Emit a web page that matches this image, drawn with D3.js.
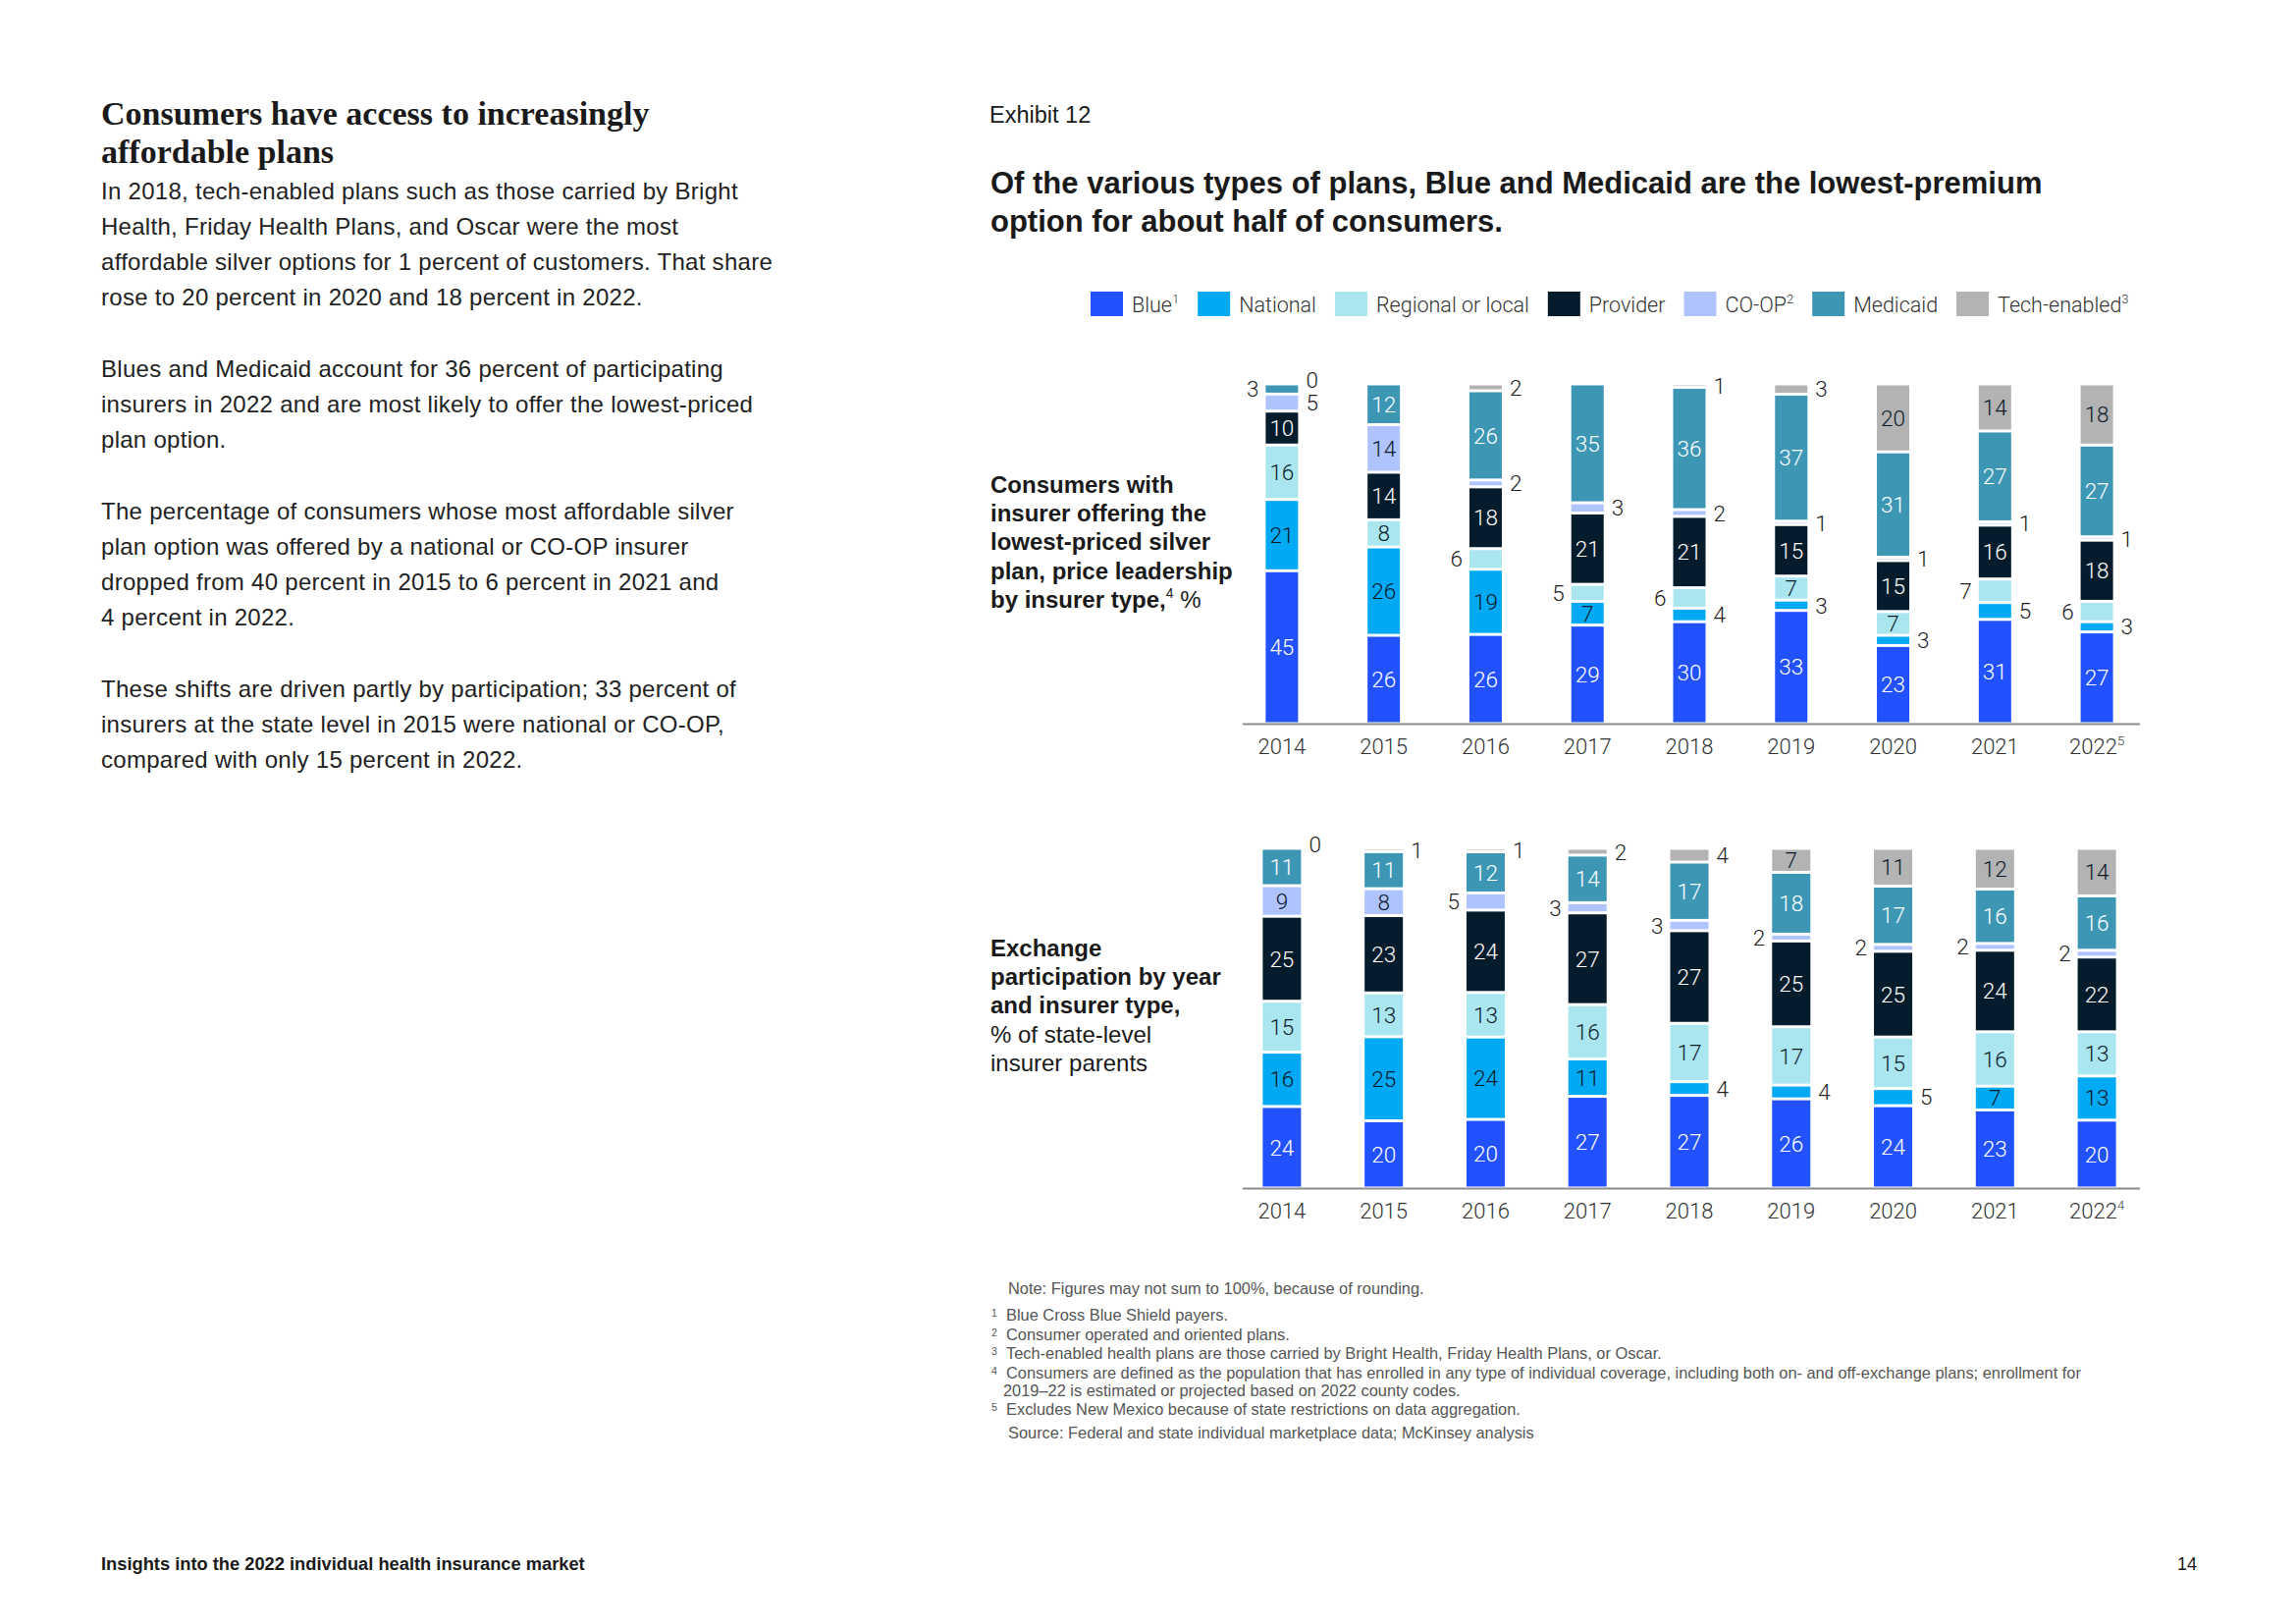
<!DOCTYPE html>
<html lang="en">
<head>
<meta charset="UTF-8">
<title>Exhibit 12</title>
<script src="https://d3js.org/d3.v7.min.js"></script>
<style>
  body { margin: 0; background: #fff; }
  #page { fill: #1a1a1a; }
  svg text { font-family: "Liberation Sans", Arial, sans-serif; }
  .serif { font-family: "Liberation Serif", "Times New Roman", serif; font-weight: bold; }
  .num { font-family: Roboto, "Liberation Sans", sans-serif; font-weight: 300; }
</style>
</head>
<body>
<svg id="page" width="2339" height="1654"></svg>
<script>
// ---- data ----
const years = ["2014", "2015", "2016", "2017", "2018", "2019", "2020", "2021", "2022"];
const seriesNames = ["Blue", "National", "Regional or local", "Provider", "CO-OP", "Medicaid", "Tech-enabled"];
const legendNotes = ["1", "", "", "", "2", "", "3"];

// price leadership (% of consumers)
const leadBlue     = [45, 26, 26, 29, 30, 33, 23, 31, 27];
const leadNational = [21, 26, 19, 7, 4, 3, 3, 5, 3];
const leadRegional = [16, 8, 6, 5, 6, 7, 7, 7, 6];
const leadProvider = [10, 14, 18, 21, 21, 15, 15, 16, 18];
const leadCoop     = [5, 14, 2, 3, 2, 1, 1, 1, 1];
const leadMedicaid = [3, 12, 26, 35, 36, 37, 31, 27, 27];
const leadTech     = [0, null, 2, null, 1, 3, 20, 14, 18];

// exchange participation (% of state-level insurer parents)
const partBlue     = [24, 20, 20, 27, 27, 26, 24, 23, 20];
const partNational = [16, 25, 24, 11, 4, 4, 5, 7, 13];
const partRegional = [15, 13, 13, 16, 17, 17, 15, 16, 13];
const partProvider = [25, 23, 24, 27, 27, 25, 25, 24, 22];
const partCoop     = [9, 8, 5, 3, 3, 2, 2, 2, 2];
const partMedicaid = [11, 11, 12, 14, 17, 18, 17, 16, 16];
const partTech     = [0, 1, 1, 2, 4, 7, 11, 12, 14];

const colors = ["#2251ff", "#00a9f4", "#aae6f0", "#051c2c", "#afc3ff", "#3c96b4", "#b3b3b3"];
const lightText = { "Blue": true, "Provider": true, "Medicaid": true };

const svg = d3.select("#page");

function rows(cols) {
  return years.map((y, i) => {
    const r = { year: y };
    seriesNames.forEach((s, k) => { r[s] = cols[k][i]; });
    return r;
  });
}

// ---- left column text ----
svg.append("text").attr("class", "serif").attr("x", 103).attr("y", 127).attr("font-size", 34).text("Consumers have access to increasingly");
svg.append("text").attr("class", "serif").attr("x", 103).attr("y", 166).attr("font-size", 34).text("affordable plans");

const body = [
  [203, "In 2018, tech-enabled plans such as those carried by Bright"],
  [239, "Health, Friday Health Plans, and Oscar were the most"],
  [275, "affordable silver options for 1 percent of customers. That share"],
  [311, "rose to 20 percent in 2020 and 18 percent in 2022."],
  [384, "Blues and Medicaid account for 36 percent of participating"],
  [420, "insurers in 2022 and are most likely to offer the lowest-priced"],
  [456, "plan option."],
  [529, "The percentage of consumers whose most affordable silver"],
  [565, "plan option was offered by a national or CO-OP insurer"],
  [601, "dropped from 40 percent in 2015 to 6 percent in 2021 and"],
  [637, "4 percent in 2022."],
  [710, "These shifts are driven partly by participation; 33 percent of"],
  [746, "insurers at the state level in 2015 were national or CO-OP,"],
  [782, "compared with only 15 percent in 2022."]
];
svg.selectAll(".body").data(body).enter().append("text")
  .attr("class", "body").attr("x", 103).attr("y", d => d[0])
  .attr("font-size", 24).attr("letter-spacing", 0.28).attr("fill", "#222").text(d => d[1]);

// ---- exhibit header ----
svg.append("text").attr("x", 1008).attr("y", 125).attr("font-size", 23.5).text("Exhibit 12");
svg.append("text").attr("x", 1009).attr("y", 197).attr("font-size", 31).attr("font-weight", "bold")
  .text("Of the various types of plans, Blue and Medicaid are the lowest-premium");
svg.append("text").attr("x", 1009).attr("y", 236).attr("font-size", 31).attr("font-weight", "bold")
  .text("option for about half of consumers.");

// ---- legend ----
const legend = svg.append("g").attr("transform", "translate(1111,310)");
let lx = 0;
seriesNames.forEach((s, i) => {
  const g = legend.append("g").attr("transform", `translate(${lx},0)`);
  g.append("rect").attr("x", 0).attr("y", -13).attr("width", 33).attr("height", 25).attr("fill", colors[i]);
  const t = g.append("text").attr("class", "num").attr("x", 42).attr("y", 8).attr("font-size", 21.5).attr("fill", "#333").text(s);
  if (legendNotes[i]) t.append("tspan").attr("font-size", 13).attr("dy", -9).text(legendNotes[i]);
  lx += 42 + t.node().getComputedTextLength() + 19;
});

// ---- charts ----
const x = d3.scalePoint().domain(years).range([1254, 2188]).padding(0.5);

function drawChart(cfg) {
  const data = rows(cfg.cols);
  const stack = d3.stack().keys(seriesNames).value((d, k) => d[k] || 0).offset(d3.stackOffsetExpand);
  const layers = stack(data);
  const y = d3.scaleLinear().domain([0, 1]).range([cfg.base, cfg.base - 346]);
  const g = svg.append("g");
  const bw = cfg.barWidth;

  layers.forEach((layer, k) => {
    const name = seriesNames[k];
    g.selectAll(null).data(layer).enter().append("rect")
      .attr("x", d => x(d.data.year) - bw / 2)
      .attr("y", d => y(d[1]) + 1.5)
      .attr("width", bw)
      .attr("height", d => Math.max(0, y(d[0]) - y(d[1]) - 3))
      .attr("fill", colors[k]);

    layer.forEach(d => {
      const v = d.data[name];
      if (v === null || v === undefined) return;
      const cy = (y(d[0]) + y(d[1])) / 2 + (v === 0 ? -4 : 0);
      const cx = x(d.data.year);
      const outside = v < 7 || (cfg.forceOut[name] || []).includes(d.data.year);
      const t = g.append("text").attr("class", "num").attr("font-size", 22.5)
        .attr("dy", "0.36em").attr("y", cy).text(v);
      if (!outside) {
        t.attr("x", cx).attr("text-anchor", "middle").attr("fill", lightText[name] ? "#fff" : "#0b1b2b");
      } else if (cfg.leftSide[name]) {
        t.attr("x", cx - bw / 2 - 7).attr("text-anchor", "end").attr("fill", "#222");
      } else {
        t.attr("x", cx + bw / 2 + 8).attr("text-anchor", "start").attr("fill", "#222");
      }
    });
  });

  g.append("line").attr("x1", 1266).attr("x2", 2180).attr("y1", cfg.base + 0.5).attr("y2", cfg.base + 0.5)
    .attr("stroke", "#8c8c8c").attr("stroke-width", 2);

  years.forEach((yr, i) => {
    const t = g.append("text").attr("class", "num").attr("x", x(yr)).attr("y", cfg.base + 31)
      .attr("text-anchor", "middle").attr("font-size", 22).attr("fill", "#333").text(yr);
    if (i === years.length - 1) t.append("tspan").attr("font-size", 13).attr("dy", -9).text(cfg.lastNote);
  });

  cfg.side.forEach((line, i) => {
    const t = svg.append("text").attr("x", 1009).attr("y", cfg.sideY + i * 29.2).attr("font-size", 24);
    line.forEach(part => {
      const sp = t.append("tspan").text(part.t);
      if (part.b) sp.attr("font-weight", "bold");
      if (part.sup) sp.attr("font-size", 14).attr("dy", -10);
      if (part.down) sp.attr("dy", 10);
    });
  });
}

drawChart({
  cols: [leadBlue, leadNational, leadRegional, leadProvider, leadCoop, leadMedicaid, leadTech],
  base: 737, barWidth: 33, lastNote: "5",
  leftSide: { "Regional or local": true, "Medicaid": true },
  forceOut: { "Regional or local": ["2021"] },
  sideY: 502,
  side: [
    [{ t: "Consumers with", b: true }],
    [{ t: "insurer offering the", b: true }],
    [{ t: "lowest-priced silver", b: true }],
    [{ t: "plan, price leadership", b: true }],
    [{ t: "by insurer type,", b: true }, { t: "4", sup: true }, { t: " %", down: true }]
  ]
});

drawChart({
  cols: [partBlue, partNational, partRegional, partProvider, partCoop, partMedicaid, partTech],
  base: 1210, barWidth: 39, lastNote: "4",
  leftSide: { "CO-OP": true },
  forceOut: {},
  sideY: 974,
  side: [
    [{ t: "Exchange", b: true }],
    [{ t: "participation by year", b: true }],
    [{ t: "and insurer type,", b: true }],
    [{ t: "% of state-level" }],
    [{ t: "insurer parents" }]
  ]
});

// ---- notes ----
const notes = [
  [1345, "1", "Blue Cross Blue Shield payers."],
  [1365, "2", "Consumer operated and oriented plans."],
  [1384, "3", "Tech-enabled health plans are those carried by Bright Health, Friday Health Plans, or Oscar."],
  [1404, "4", "Consumers are defined as the population that has enrolled in any type of individual coverage, including both on- and off-exchange plans; enrollment for"],
  [1422, "", "2019–22 is estimated or projected based on 2022 county codes."],
  [1441, "5", "Excludes New Mexico because of state restrictions on data aggregation."]
];
svg.append("text").attr("x", 1027).attr("y", 1318).attr("font-size", 16.4).attr("fill", "#555")
  .text("Note: Figures may not sum to 100%, because of rounding.");
notes.forEach(n => {
  svg.append("text").attr("x", 1010).attr("y", n[0] - 4).attr("font-size", 10.5).attr("fill", "#555").text(n[1]);
  svg.append("text").attr("x", n[1] ? 1025 : 1022).attr("y", n[0]).attr("font-size", 16.4).attr("fill", "#555").text(n[2]);
});
svg.append("text").attr("x", 1027).attr("y", 1465).attr("font-size", 16.4).attr("fill", "#555")
  .text("Source: Federal and state individual marketplace data; McKinsey analysis");

// ---- footer ----
svg.append("text").attr("x", 103).attr("y", 1599).attr("font-size", 18.3).attr("font-weight", "bold")
  .text("Insights into the 2022 individual health insurance market");
svg.append("text").attr("x", 2238).attr("y", 1599).attr("font-size", 18).attr("text-anchor", "end").text("14");
</script>
</body>
</html>
